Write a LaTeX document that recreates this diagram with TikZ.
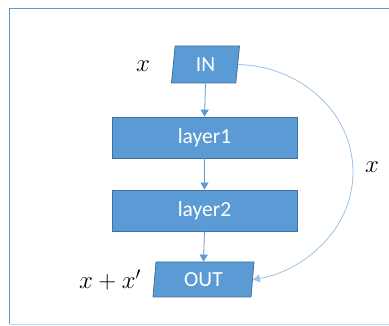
\documentclass[tikz,border=0pt]{standalone}
\usepackage{fontspec}
\setmainfont{Carlito}
\usetikzlibrary{shapes.geometric,arrows.meta}
\definecolor{boxfill}{HTML}{5B9BD5}
\definecolor{boxline}{HTML}{41719C}
\definecolor{frameblue}{HTML}{5B9BD5}
\definecolor{framelight}{HTML}{BDD7EE}
\definecolor{skipline}{HTML}{9DC3E6}
\tikzset{
  block/.style={rectangle, draw=boxline, fill=boxfill, line width=0.8pt,
    text=white, font=\fontsize{21.5}{22}\selectfont,
    minimum width=185pt, minimum height=41pt, inner sep=0pt},
  io/.style={trapezium, trapezium stretches body, draw=boxline, fill=boxfill,
    line width=0.8pt, text=white, font=\fontsize{21.5}{22}\selectfont, inner sep=0pt},
  flow/.style={draw=frameblue, line width=0.8pt, -{Triangle[length=7pt,width=8pt]}},
  skip/.style={draw=skipline, line width=0.8pt, -{Triangle[length=7pt,width=8pt]}},
  mathlabel/.style={font=\fontsize{25}{25}\selectfont, inner sep=0pt}
}
\begin{document}
\begin{tikzpicture}[x=1pt,y=-1pt]
  % canvas and window frame
  \useasboundingbox (0,0) rectangle (389,326);
  \fill[white] (0,0) rectangle (389,326);
  \draw[framelight, line width=1.2pt] (9.5,324.5) -- (389,324.5);
  \draw[frameblue, line width=1.5pt] (9.5,324.5) -- (9.5,8.5) -- (389,8.5);

  % blocks
  \node[io, trapezium left angle=75, trapezium right angle=105,
        minimum width=68pt, minimum height=37pt] (in) at (205.5,64.5) {IN};
  \node[block] (l1) at (204.5,137.5) {layer1};
  \node[block] (l2) at (204.5,210.5) {layer2};
  \node[io, trapezium left angle=78, trapezium right angle=102,
        minimum width=101pt, minimum height=35pt] (out) at (203.5,279.5) {OUT};

  % labels
  \node[mathlabel] (lx) at (143,66) {$x$};
  \node[mathlabel] (lsum) at (110,280) {$x+x'$};
  \node[mathlabel] (lskip) at (372,167) {$x$};

  % main path
  \draw[flow] (in.south) -- (l1.north);
  \draw[flow] (l1.south) -- (l2.north);
  \draw[flow] (l2.south) -- (out.north);

  % identity shortcut
  \coordinate (far) at (353,172);
  \draw[skip] (in.east) .. controls (301,66) and (353,113) .. (far)
    .. controls (353,232) and (300,272) .. (out.east);
\end{tikzpicture}
\end{document}
